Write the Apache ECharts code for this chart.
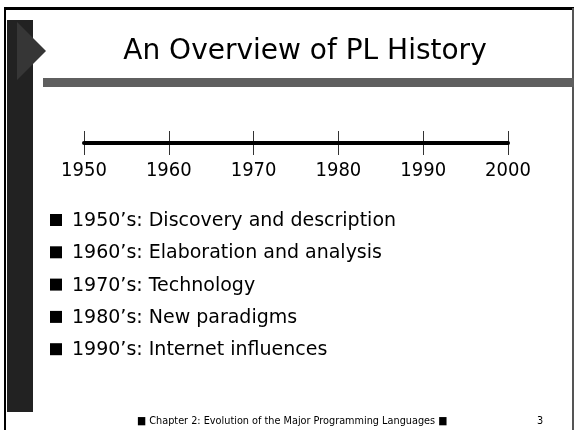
<!DOCTYPE html>
<html>
<head>
<meta charset="utf-8">
<script src="https://cdn.jsdelivr.net/npm/echarts@6/dist/echarts.min.js"></script>
<style>
  html, body { margin: 0; padding: 0; background: #fff; }
  #main { width: 574px; height: 430px; }
</style>
</head>
<body>
<div id="main"></div>
<script>
// slide title
var slide_title = "An Overview of PL History";

// timeline years (ticks)
var years = [1950, 1960, 1970, 1980, 1990, 2000];

// bullet items
var bullet_items = [
  "1950\u2019s: Discovery and description",
  "1960\u2019s: Elaboration and analysis",
  "1970\u2019s: Technology",
  "1980\u2019s: New paradigms",
  "1990\u2019s: Internet influences"
];

var footer_text = "\u25A0 Chapter 2: Evolution of the Major Programming Languages \u25A0";
var page_no = "3";

var font_wide = "'DejaVu Sans', sans-serif";
var font_cond = "'DejaVu Sans Condensed', 'DejaVu Sans', sans-serif";

var myChart = echarts.init(document.getElementById("main"));

// graphic: frame, left panel, triangle, grey bar, bullets, footer
var graphics = [
  { type: "rect", shape: { x: 4, y: 7, width: 570, height: 3 }, style: { fill: "#000" } },
  { type: "rect", shape: { x: 4, y: 7, width: 2, height: 423 }, style: { fill: "#000" } },
  { type: "rect", shape: { x: 572, y: 8, width: 2, height: 422 }, style: { fill: "#555" } },
  { type: "rect", shape: { x: 7, y: 20, width: 26, height: 392 }, style: { fill: "#222" } },
  { type: "polygon", shape: { points: [[17, 22], [46, 51], [17, 80]] }, style: { fill: "#363636" } },
  { type: "rect", shape: { x: 43, y: 78, width: 531, height: 9 }, style: { fill: "#5f5f5f" } }
];

for (var i = 0; i < bullet_items.length; i++) {
  var cy = 220 + i * 32.3;
  graphics.push({ type: "rect", shape: { x: 50, y: cy - 6, width: 12, height: 12 }, style: { fill: "#000" } });
  graphics.push({
    type: "text", x: 72, y: cy + 1,
    style: { text: bullet_items[i], fill: "#000", font: "19px " + font_wide, textVerticalAlign: "middle" }
  });
}

graphics.push({
  type: "text", x: 137, y: 421,
  style: { text: footer_text, fill: "#000", font: "10.8px " + font_cond, textVerticalAlign: "middle" }
});
graphics.push({
  type: "text", x: 540, y: 421,
  style: { text: page_no, fill: "#000", font: "10.8px " + font_cond, textVerticalAlign: "middle", textAlign: "center" }
});

option = {
  backgroundColor: "#fff",
  animation: false,
  title: {
    text: slide_title,
    left: 300,
    top: 33,
    textAlign: "center",
    textStyle: { fontFamily: font_wide, fontSize: 28, fontWeight: "normal", color: "#000" }
  },
  grid: { left: 84, right: 66, top: 131, height: 24 },
  xAxis: {
    type: "value",
    min: years[0],
    max: years[years.length - 1],
    interval: 10,
    axisLine: { onZero: true, lineStyle: { color: "#000", width: 4 } },
    axisTick: { show: false },
    splitLine: { show: true, lineStyle: { color: "#333", width: 1 } },
    axisLabel: {
      color: "#000", fontSize: 20, fontFamily: font_cond, margin: 6,
      formatter: function (v) { return String(v); }
    }
  },
  yAxis: { type: "value", min: -1, max: 1, show: false },
  series: [],
  graphic: graphics
};

myChart.setOption(option);
</script>
</body>
</html>
